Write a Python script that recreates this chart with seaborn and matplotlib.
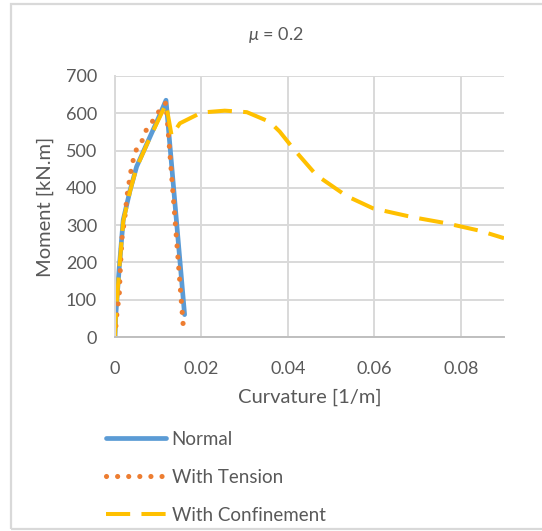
import matplotlib
matplotlib.use("Agg")
import matplotlib.pyplot as plt
import seaborn as sns
import pandas as pd
from matplotlib.patches import Rectangle

# Moment-curvature data, mu = 0.2
normal_k = [0, 0.0002, 0.001, 0.0019, 0.0035, 0.005, 0.0081, 0.0100, 0.0118, 0.0161]
normal_m = [0, 63, 188, 314, 394, 457, 537, 586, 635, 60]

tension_k = [0, 0.0004, 0.001, 0.0012, 0.0016, 0.0023, 0.0028, 0.0036, 0.0046,
             0.0062, 0.0070, 0.0086, 0.0100, 0.0110, 0.0118, 0.0158]
tension_m = [0, 58, 116, 176, 264, 324, 380, 440, 496,
             524, 551, 577, 602, 620, 628, 28]

conf_k = [0, 0.0002, 0.001, 0.0019, 0.0035, 0.005, 0.0081, 0.0118, 0.0131, 0.015,
          0.02, 0.0254, 0.0305, 0.0358, 0.0381, 0.0412, 0.0466, 0.0536, 0.0597,
          0.069, 0.0767, 0.0844, 0.09]
conf_m = [0, 60, 185, 310, 392, 455, 535, 625, 540, 573,
          602, 607, 603, 577, 551, 506, 434, 378, 345,
          321, 305, 285, 265]

x_ticks = [0, 0.02, 0.04, 0.06, 0.08]
x_tick_labels = ["0", "0.02", "0.04", "0.06", "0.08"]
y_ticks = [0, 100, 200, 300, 400, 500, 600, 700]

sns.set_theme(style="white")
plt.rcParams["font.family"] = ["Lato", "DejaVu Sans"]
plt.rcParams["mathtext.fontset"] = "custom"
plt.rcParams["mathtext.it"] = "Lato:italic"
plt.rcParams["mathtext.rm"] = "Lato"

TXT = "#595959"
GRID = "#D9D9D9"

fig = plt.figure(figsize=(5.42, 5.31), dpi=100)
ax = fig.add_axes([115 / 542, 1 - 337 / 531, 389 / 542, 261 / 531])

df_n = pd.DataFrame({"k": normal_k, "M": normal_m})
df_t = pd.DataFrame({"k": tension_k, "M": tension_m})
df_c = pd.DataFrame({"k": conf_k, "M": conf_m})

sns.lineplot(data=df_n, x="k", y="M", ax=ax, sort=False, estimator=None,
             color="#5B9BD5", lw=3.4, label="Normal", solid_capstyle="round")
sns.lineplot(data=df_t, x="k", y="M", ax=ax, sort=False, estimator=None,
             color="#ED7D31", lw=3.7, label="With Tension",
             linestyle=(0, (0.01, 2.15)), dash_capstyle="round")
sns.lineplot(data=df_c, x="k", y="M", ax=ax, sort=False, estimator=None,
             color="#FFC000", lw=2.9, label="With Confinement",
             linestyle=(0, (6, 2.8)), dash_capstyle="butt")

ax.set_xlim(0, 0.09)
ax.set_ylim(0, 700)
ax.set_xticks(x_ticks)
ax.set_xticklabels(x_tick_labels)
ax.set_yticks(y_ticks)
ax.grid(True, color=GRID, lw=1.4)
ax.set_axisbelow(True)
for side in ["top", "right"]:
    ax.spines[side].set_visible(False)
ax.spines["left"].set_color(GRID)
ax.spines["left"].set_linewidth(1.4)
ax.spines["bottom"].set_color("#BFBFBF")
ax.spines["bottom"].set_linewidth(1.4)
ax.tick_params(axis="both", length=0, labelsize=13, labelcolor=TXT)
ax.tick_params(axis="y", pad=13)
ax.tick_params(axis="x", pad=17)

ax.set_xlabel("Curvature [1/m]", fontsize=14.5, color=TXT)
ax.set_ylabel("Moment [kN.m]", fontsize=14.5, color=TXT)
ax.xaxis.set_label_coords(0.5, -0.232)
ax.xaxis.label.set_va("center")
ax.yaxis.set_label_coords(-0.18, 0.5)
ax.yaxis.label.set_va("center")

fig.text(276 / 542, 1 - 35 / 531, r"$\mu$ = 0.2", ha="center", va="center",
         fontsize=13, color=TXT)

ax.legend_.remove()
handles, labels = ax.get_legend_handles_labels()
fig.legend(handles, labels, loc="upper left",
           bbox_to_anchor=(106 / 542, 1 - 431 / 531), frameon=False,
           fontsize=13.5, labelcolor=TXT, handlelength=3.2, handletextpad=0.3,
           labelspacing=1.12, borderpad=0, borderaxespad=0)

# chart-area frame
fig.patches.append(Rectangle((10.5 / 542, 1 - 529 / 531), 540 / 542, 525.5 / 531,
                             transform=fig.transFigure, fill=False,
                             edgecolor=GRID, lw=1.6))

fig.savefig("out.png", dpi=100)
